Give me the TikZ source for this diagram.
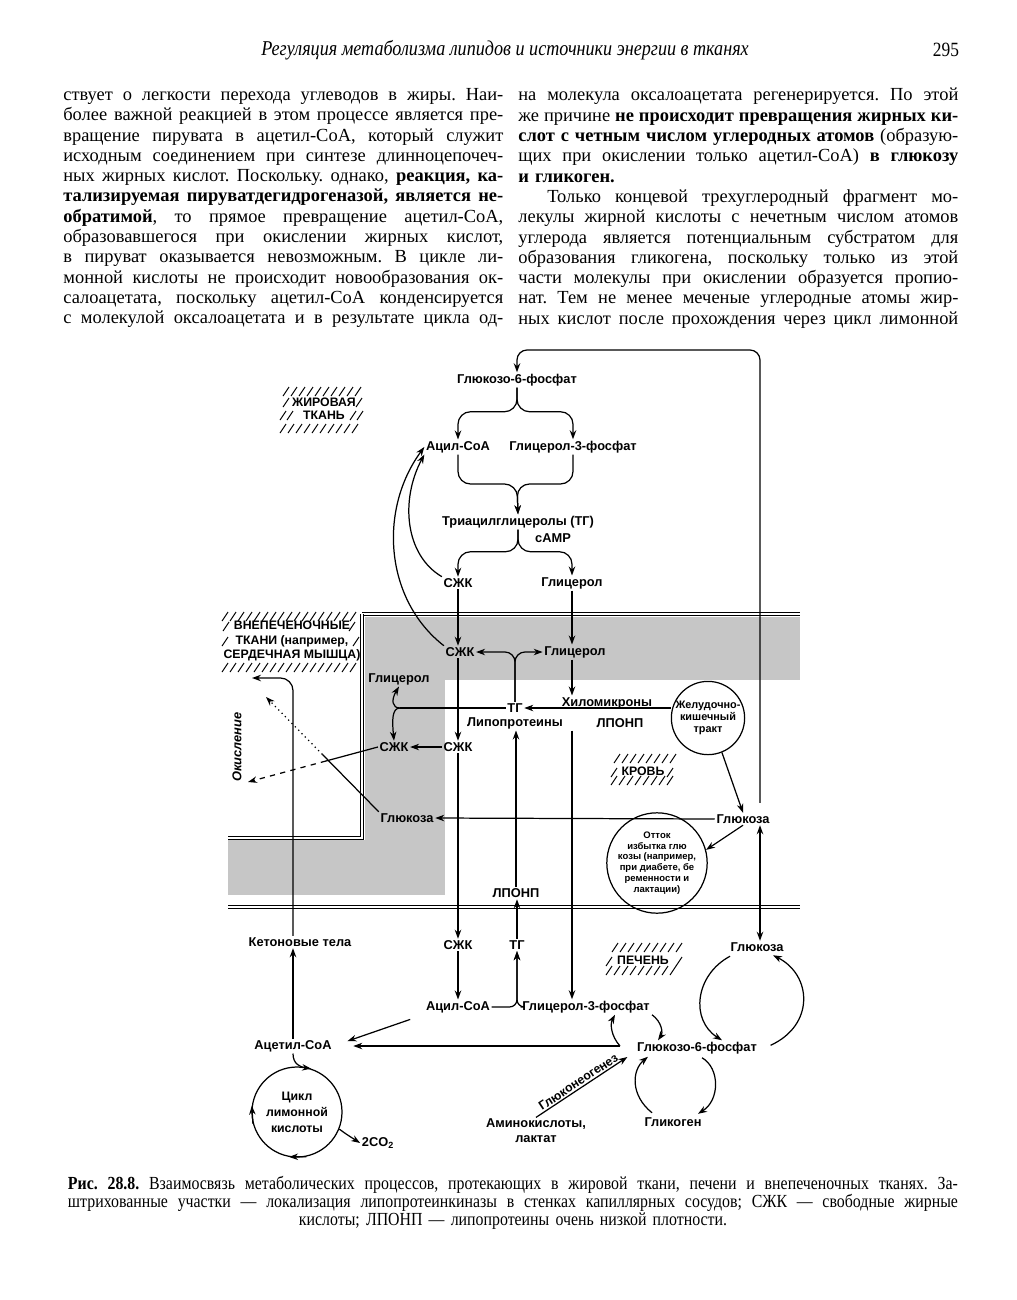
\documentclass[tikz,border=0pt]{standalone}
\usepackage{fontspec}
\usepackage{graphicx}
\setmainfont{Liberation Serif}
\newfontfamily\diagfont{Liberation Sans}
\newfontfamily\capfont[FakeStretch=0.86]{Liberation Serif}
\usetikzlibrary{arrows.meta,calc}
\setlength{\parindent}{0pt}

\newcommand\dfont{\diagfont\bfseries\fontsize{7.3}{8.4}\selectfont}
\newcommand\sfont{\diagfont\bfseries\fontsize{6.2}{6.9}\selectfont}
\newcommand\xfont{\diagfont\bfseries\fontsize{5.4}{6.2}\selectfont}
\newcommand\tagfont{\diagfont\bfseries\fontsize{7}{8.4}\selectfont}

% one printed line, stretched (or squeezed) to the column width
\newsavebox\linebox
\newcommand\fitline[2]{{\frenchspacing\spaceskip=0.26em plus 1em minus 0.06em\relax
  \sbox\linebox{#2}%
  \ifdim\wd\linebox>#1\relax\resizebox{#1}{\height}{\usebox\linebox}%
  \else\makebox[#1][s]{#2}\fi}\par}
\newcommand\jl[1]{\fitline{88mm}{#1}}
\newcommand\hatchrow[4]{\foreach \hx in {#1,#2,...,#3} \draw[hatchln] (\hx,#4) -- ++(6,-9);}

\begin{document}
\begin{tikzpicture}[x=0.2mm, y=-0.2mm,
  lbl/.style={font=\dfont, inner sep=0.8pt},
  ln/.style={line width=0.7pt},
  arr/.style={ln, -{Stealth[length=1.8mm,width=1.3mm]}},
  darr/.style={ln, {Stealth[length=1.8mm,width=1.3mm]}-{Stealth[length=1.8mm,width=1.3mm]}},
  cyc/.style={circle, draw, line width=0.7pt, align=center, inner sep=0pt},
  wall/.style={double, line width=0.25mm, double distance=0.35mm},
  band/.style={fill=gray!45},
  hatchln/.style={line width=0.55pt},
  tag/.style={font=\tagfont, align=center, inner sep=0.5pt},
  coltext/.style={anchor=north west, inner sep=0pt, text width=88mm,
    font=\fontsize{10.5}{11.55}\selectfont}]
  \fill[white] (0,0) rectangle (1017,1300);
  \useasboundingbox (0,0) rectangle (1017,1300);

  \node[font=\capfont\itshape\fontsize{12}{13}\selectfont, inner sep=0pt] (runhead) at (505,50)
    {Регуляция метаболизма липидов и источники энергии в тканях};
  \node[font=\capfont\fontsize{11.5}{12}\selectfont, inner sep=0pt] (pagenum) at (946,50) {295};

  \node[coltext] (colL) at (63,88) {%
    \jl{ствует о легкости перехода углеводов в жиры. Наи-}
    \jl{более важной реакцией в этом процессе является пре-}
    \jl{вращение пирувата в ацетил-СоА, который служит}
    \jl{исходным соединением при синтезе длинноцепочеч-}
    \jl{ных жирных кислот. Поскольку. однако, \textbf{реакция, ка-}}
    \jl{\textbf{тализируемая пируватдегидрогеназой, является не-}}
    \jl{\textbf{обратимой}, то прямое превращение ацетил-СоА,}
    \jl{образовавшегося при окислении жирных кислот,}
    \jl{в пируват оказывается невозможным. В цикле ли-}
    \jl{монной кислоты не происходит новообразования ок-}
    \jl{салоацетата, поскольку ацетил-СоА конденсируется}
    \jl{с молекулой оксалоацетата и в результате цикла од-}};
  \node[coltext] (colR) at (518,88) {%
    \jl{на молекула оксалоацетата регенерируется. По этой}
    \jl{же причине \textbf{не происходит превращения жирных ки-}}
    \jl{\textbf{слот с четным числом углеродных атомов} (образую-}
    \jl{щих при окислении только ацетил-СоА) \textbf{в глюкозу}}
    \textbf{и гликоген.}\par
    \jl{\hspace*{5.8mm}Только концевой трехуглеродный фрагмент мо-}
    \jl{лекулы жирной кислоты с нечетным числом атомов}
    \jl{углерода является потенциальным субстратом для}
    \jl{образования гликогена, поскольку только из этой}
    \jl{части молекулы при окислении образуется пропио-}
    \jl{нат. Тем не менее меченые углеродные атомы жир-}
    \jl{ных кислот после прохождения через цикл лимонной}};

  % capillary walls and tissue borders
  \fill[band] (365,617) rectangle (800,680);
  \fill[band] (365,617) rectangle (445,895);
  \fill[band] (228,840) rectangle (445,895);
  \draw[wall] (362,614) -- (800,614);
  \draw[wall] (362,614) -- (362,838) -- (228,838);
  \draw[wall] (228,907) -- (800,907);

  % adipose tissue
  \node[lbl] (a_g6p) at (517,380) {Глюкозо-6-фосфат};
  \node[lbl] (a_acyl) at (458,447) {Ацил-CoA};
  \node[lbl] (a_g3p) at (573,447) {Глицерол-3-фосфат};
  \node[lbl] (a_tg) at (518,522) {Триацилглицеролы (ТГ)};
  \node[lbl] (camp) at (553,538) {cAMP};
  \node[lbl] (a_ffa) at (458,583) {СЖК};
  \node[lbl] (a_gly) at (572,583) {Глицерол};
  \node[tag, font=\diagfont\bfseries\fontsize{7}{7.4}\selectfont] (lbl_fat) at (324,409) {ЖИРОВАЯ\\ТКАНЬ};
  \hatchrow{283}{291}{355}{396}
  \hatchrow{280}{288}{352}{433}
  \draw[hatchln] (283,407) -- ++(6,-9) (356,407) -- ++(6,-9);
  \draw[hatchln] (280,420) -- ++(6,-9) (287,420) -- ++(6,-9) (350,420) -- ++(6,-9) (357,420) -- ++(6,-9);

  \draw[arr, rounded corners=2.5mm] (a_g6p.south) -- ++(0,24) -| (a_acyl.north);
  \draw[arr, rounded corners=2.5mm] (a_g6p.south) -- ++(0,24) -| (a_g3p.north);
  \coordinate (a_m) at (517,484);
  \draw[arr, rounded corners=2.5mm] (a_acyl.south) |- (a_m) -- (a_tg.north);
  \draw[arr, rounded corners=2.5mm] (a_g3p.south) |- (a_m) -- (a_tg.north);
  \draw[arr, rounded corners=2.5mm] (a_tg.south) -- ++(0,22) -| (a_ffa.north);
  \draw[arr, rounded corners=2.5mm] (a_tg.south) -- ++(0,22) -| (a_gly.north);

  % blood
  \node[lbl] (b_ffa) at (460,652) {СЖК};
  \node[lbl] (b_gly) at (575,652) {Глицерол};
  \node[lbl] (bl_tg) at (515,708) {ТГ};
  \node[lbl] (lipo) at (515,723) {Липопротеины};
  \node[lbl] (chylo) at (607,703) {Хиломикроны};
  \node[lbl] (vldl1) at (620,723) {ЛПОНП};
  \node[cyc, minimum size=13.6mm, font=\sfont] (gut) at (708,718) {Желудочно-\\кишечный\\тракт};
  \node[lbl] (bl_glc) at (743,819) {Глюкоза};
  \node[cyc, minimum size=16.4mm, font=\xfont] (drain) at (657,863)
    {Отток\\избытка глю\\козы (например,\\при диабете, бе\\ременности и\\лактации)};
  \node[lbl] (vldl2) at (516,893) {ЛПОНП};
  \node[tag] (lbl_blood) at (643,771) {КРОВЬ};
  \hatchrow{614}{622}{670}{763}
  \hatchrow{611}{619}{667}{785}
  \draw[hatchln] (611,777) -- ++(6,-9) (667,777) -- ++(6,-9);

  \draw[arr] (a_ffa.south) -- (a_ffa.south |- b_ffa.north);
  \draw[arr] (a_gly.south) -- (a_gly.south |- b_gly.north);
  \draw[arr] (a_ffa.north west) .. controls (405,555) and (400,500) .. (a_acyl.south west);
  \draw[arr] (b_ffa.north west) .. controls (385,600) and (378,510) .. (a_acyl.west);
  \draw[arr] (gut.west |- bl_tg) -- (bl_tg.east);
  \draw[arr, rounded corners=2mm] (bl_tg.north) |- (b_ffa.east);
  \draw[arr, rounded corners=2mm] (bl_tg.north) |- (b_gly.west);
  \draw[arr] (b_gly.south -| a_gly) -- (a_gly |- chylo.north);

  % extrahepatic tissues
  \node[lbl] (e_gly) at (399,679) {Глицерол};
  \node[lbl] (e_ffa) at (394,747) {СЖК};
  \node[lbl] (m_ffa) at (458,747) {СЖК};
  \node[lbl] (e_glc) at (407,818) {Глюкоза};
  \node[lbl, rotate=90, font=\diagfont\bfseries\itshape\fontsize{7.3}{8.4}\selectfont] (oxid) at (237,747) {Окисление};
  \node[tag] (lbl_extra) at (292,641) {ВНЕПЕЧЕНОЧНЫЕ\\ТКАНИ (например,\\СЕРДЕЧНАЯ МЫШЦА)};
  \hatchrow{222}{230}{356}{621}
  \hatchrow{222}{230}{356}{672}
  \draw[hatchln] (223,631) -- ++(6,-9) (349,631) -- ++(6,-9) (222,646) -- ++(6,-9) (353,646) -- ++(6,-9);

  \coordinate (e_j) at (400,708);
  \draw[ln] (bl_tg.west) -- (e_j);
  \draw[arr] (e_j) .. controls (392,708) and (391,700) .. (e_gly.south);
  \draw[arr] (e_j) .. controls (392,708) and (392,720) .. (e_ffa.north);
  \draw[arr] (m_ffa.west) -- (e_ffa.east);
  \draw[arr] (b_ffa.south -| m_ffa) -- (m_ffa.north);
  \draw[arr] (bl_glc.west) -- (e_glc.east);
  \draw[arr] (gut.-68) -- (bl_glc.north);
  \draw[arr] (bl_glc.south) -- (drain.15);

  \coordinate (ox1) at (252,678);
  \coordinate (ox2) at (266,697);
  \coordinate (ox3) at (248,782);
  \coordinate (g_mid) at ($(e_glc.north west)!0.5!(ox2)$);
  \coordinate (f_mid) at ($(e_ffa.west)!0.4!(ox3)$);
  \draw[ln] (e_glc.north west) -- (g_mid);
  \draw[arr, dotted] (g_mid) -- (ox2);
  \draw[ln] (e_ffa.west) -- (f_mid);
  \draw[arr, dashed] (f_mid) -- (ox3);

  % liver
  \node[lbl] (l_ket) at (300,942) {Кетоновые тела};
  \node[lbl] (l_ffa) at (458,945) {СЖК};
  \node[lbl] (l_tg) at (517,945) {ТГ};
  \node[lbl] (l_acyl) at (458,1007) {Ацил-CoA};
  \node[lbl] (l_g3p) at (586,1007) {Глицерол-3-фосфат};
  \node[lbl] (l_acetyl) at (293,1046) {Ацетил-CoA};
  \node[lbl] (l_glc) at (757,947) {Глюкоза};
  \node[lbl] (l_g6p) at (697,1048) {Глюкозо-6-фосфат};
  \node[lbl] (l_glyc) at (673,1122) {Гликоген};
  \node[lbl, align=center] (l_amino) at (536,1131) {Аминокислоты,\\лактат};
  \node[cyc, minimum size=18mm, font=\diagfont\bfseries\fontsize{7}{9}\selectfont] (tca) at (297,1112) {Цикл\\лимонной\\кислоты};
  \node[lbl] (co2) at (378,1143) {2CO\textsubscript{2}};
  \node[tag] (lbl_liver) at (643,960) {ПЕЧЕНЬ};
  \hatchrow{612}{620}{676}{952}
  \hatchrow{606}{614}{670}{975}
  \draw[hatchln] (606,966) -- ++(6,-9) (676,966) -- ++(6,-9);

  \coordinate (loopR) at (760,350);
  \draw[arr, rounded corners=2mm, shorten <=2mm] (bl_glc.north -| loopR) -- (loopR) -- (loopR -| a_g6p) -- (a_g6p.north);
  \draw[darr] (bl_glc.south -| loopR) -- (l_glc.north -| loopR);

  \draw[arr] (m_ffa.south) -- (m_ffa.south |- l_ffa.north);
  \draw[arr] (vldl2.north) -- (vldl2.north |- lipo.south);
  \draw[arr] (lipo.south -| a_gly) -- (a_gly |- l_g3p.north);
  \draw[arr] (l_tg.north) -- (l_tg.north |- vldl2.south);
  \draw[arr] (l_ffa.south) -- (l_ffa.south |- l_acyl.north);
  \draw[arr, rounded corners=1.5mm] (l_acyl.east) -| (l_tg.south);
  \draw[arr, rounded corners=1.5mm] (l_g3p.west) -| (l_tg.south);
  \draw[arr, shorten <=3mm, shorten >=3mm] (l_acyl.south west) -- (l_acetyl.east);
  \draw[arr] (l_acetyl.north) -- (l_acetyl.north |- l_ket.south);
  \draw[arr, rounded corners=2.5mm] (l_ket.north -| l_acetyl) |- (ox1);

  \coordinate (g6p_w) at (620,1046);
  \draw[arr, shorten >=4mm] (g6p_w) -- (l_acetyl.east);
  \draw[arr] (g6p_w) .. controls (611,1036) and (610,1024) .. ($(l_g3p.south)+(29,0)$);
  \draw[arr] ($(l_g3p.south)+(66,0)$) .. controls (662,1022) and (663,1033) .. ($(l_g6p.north)+(-39,0)$);
  \draw[arr] ($(l_glc.south)+(-27,3)$) .. controls (695,975) and (690,1020) .. ($(l_g6p.north)+(25,0)$);
  \draw[arr] ($(l_g6p.north east)+(12,5)$) .. controls (815,1025) and (812,975) .. ($(l_glc.south)+(16,2)$);
  \draw[arr] ($(l_g6p.south)+(5,2)$) .. controls (720,1068) and (720,1100) .. ($(l_glyc.north)+(25,-2)$);
  \draw[arr] ($(l_glyc.north)+(-21,-3)$) .. controls (630,1095) and (632,1070) .. ($(l_g6p.south)+(-49,1)$);
  \draw[arr] (l_amino.north) -- node[lbl, pos=0.5, above, sloped, font=\diagfont\bfseries\fontsize{7}{8}\selectfont] (gng) {Глюконеогенез} ($(l_g6p.west)+(-8,9)$);

  \draw[arr] (l_acetyl.south) .. controls (293,1064) and (300,1067) .. (tca.72);
  \draw[arr] (tca.195) -- (tca.172);
  \draw[arr] (tca.-78) -- (tca.-100);
  \draw[arr] (tca.-22) .. controls (346,1134) .. (co2.west);

  \node[anchor=north, text width=178mm, inner sep=0pt, font=\capfont\fontsize{10.5}{10.3}\selectfont] (caption) at (513,1176) {%
    \fitline{178mm}{\textbf{Рис. 28.8.} Взаимосвязь метаболических процессов, протекающих в жировой ткани, печени и внепеченочных тканях. За-}
    \fitline{178mm}{штрихованные участки — локализация липопротеинкиназы в стенках капиллярных сосудов; СЖК — свободные жирные}
    \centering кислоты; ЛПОНП — липопротеины очень низкой плотности.\par};
\end{tikzpicture}
\end{document}
